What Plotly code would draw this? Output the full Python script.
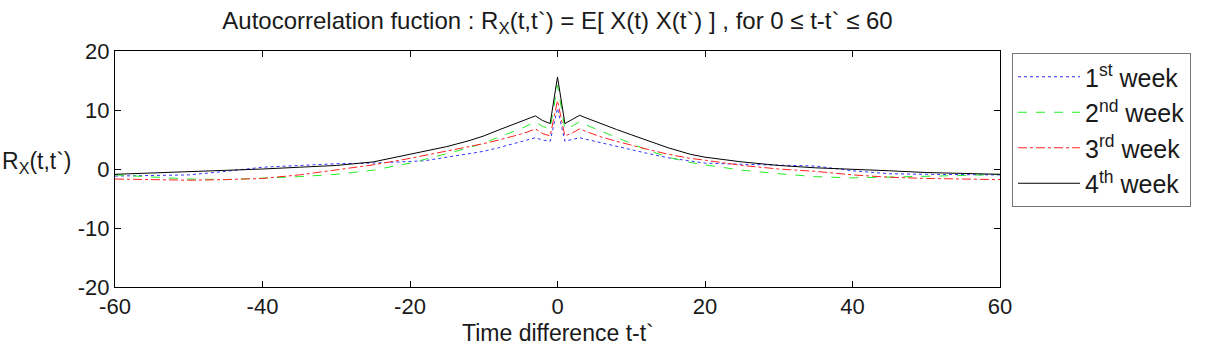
import plotly.graph_objects as go

lags = [-60, -55, -50, -45, -40, -35, -30, -25, -20, -18, -15, -12, -10, -8, -6, -5, -4, -3, -2, -1,
        0, 1, 2, 3, 4, 5, 6, 8, 10, 12, 15, 18, 20, 25, 30, 35, 40, 45, 50, 55, 60]

week1 = [-1.2, -1.1, -1.0, -0.4, 0.3, 0.6, 0.9, 1.0, 1.2, 1.4, 2.0, 2.6, 3.0, 3.6, 4.3, 4.6, 5.0, 5.3, 4.9, 4.7,
         10.3, 4.7, 5.0, 5.3, 5.0, 4.7, 4.5, 3.9, 3.3, 2.7, 1.9, 1.4, 1.0, 0.8, 0.6, 0.5, -0.3, -0.8, -0.9, -1.0, -1.0]
week2 = [-1.0, -1.3, -1.7, -1.8, -1.6, -1.3, -0.9, -0.2, 1.0, 1.6, 2.6, 3.6, 4.4, 5.4, 6.3, 6.8, 7.4, 8.0, 7.2, 6.8,
         14.2, 6.8, 7.3, 8.0, 7.4, 6.9, 6.4, 5.3, 4.3, 3.3, 2.0, 1.1, 0.7, -0.2, -0.8, -1.3, -1.5, -1.4, -1.3, -1.1, -0.9]
week3 = [-1.7, -1.8, -1.9, -1.8, -1.6, -1.0, -0.2, 0.7, 1.8, 2.3, 3.0, 3.8, 4.3, 4.9, 5.5, 5.9, 6.3, 6.8, 6.0, 5.6,
         11.6, 5.6, 6.1, 6.8, 6.3, 5.8, 5.4, 4.7, 4.0, 3.4, 2.5, 1.8, 1.5, 0.6, 0.0, -0.4, -1.0, -1.4, -1.6, -1.7, -1.8]
week4 = [-0.9, -0.7, -0.5, -0.2, 0.0, 0.3, 0.6, 1.2, 2.5, 3.1, 3.8, 4.8, 5.6, 6.6, 7.6, 8.0, 8.5, 9.0, 8.2, 7.7,
         15.6, 7.7, 8.4, 9.1, 8.6, 8.1, 7.6, 6.7, 5.8, 4.9, 3.6, 2.5, 2.0, 1.2, 0.6, 0.2, 0.0, -0.3, -0.6, -0.8, -0.9]

names = ["1<sup>st</sup> week", "2<sup>nd</sup> week", "3<sup>rd</sup> week", "4<sup>th</sup> week"]
colors = ["#3333ff", "#22ee22", "#ff2222", "#000000"]
dashes = ["dot", "dash", "dashdot", "solid"]

x_ticks = [-60, -40, -20, 0, 20, 40, 60]
x_labels = ["-60", "-40", "-20", "0", "20", "40", "60"]
y_ticks = [-20, -10, 0, 10, 20]
y_labels = ["-20", "-10", "0", "10", "20"]

FONT = "Liberation Sans, Arial, sans-serif"
TXT = "#1a1a1a"

fig = go.Figure()
for ys, nm, c, d in zip([week1, week2, week3, week4], names, colors, dashes):
    fig.add_trace(go.Scatter(x=lags, y=ys, mode="lines", name=nm,
                             line=dict(color=c, dash=d, width=1)))

axis_common = dict(showline=True, linecolor="#000000", linewidth=1, mirror="ticks",
                   ticks="inside", ticklen=6, tickcolor="#000000", showgrid=False,
                   zeroline=False, tickfont=dict(family=FONT, size=22, color=TXT))

fig.update_layout(
    width=1212, height=353,
    margin=dict(l=115, r=212, t=51, b=66),
    paper_bgcolor="white", plot_bgcolor="white",
    font=dict(family=FONT, size=22, color=TXT),
    title=dict(text="Autocorrelation fuction : R<sub>X</sub>(t,t`) = E[ X(t) X(t`) ] , for 0 \u2264 t-t` \u2264 60",
               x=(115 + 1000) / 2 / 1212, xanchor="center", y=1 - 21 / 353, yanchor="middle",
               font=dict(family=FONT, size=24, color=TXT)),
    xaxis=dict(range=[-60, 60], tickvals=x_ticks, ticktext=x_labels, **axis_common),
    yaxis=dict(range=[-20, 20], tickvals=y_ticks, ticktext=y_labels, **axis_common),
    legend=dict(x=(1012 - 115) / 885, y=(287 - 53) / 236, xanchor="left", yanchor="top",
                bordercolor="#777777", borderwidth=1, bgcolor="white", itemwidth=62,
                font=dict(family=FONT, size=25, color=TXT)),
    showlegend=True,
)

fig.add_annotation(text="Time difference t-t`", xref="paper", yref="paper",
                   x=0.5, y=-(333 - 287) / 236, xanchor="center", yanchor="middle",
                   showarrow=False, font=dict(family=FONT, size=23, color=TXT))
fig.add_annotation(text="R<sub>X</sub>(t,t`)", xref="paper", yref="paper",
                   x=-115 / 885, y=(287 - 162) / 236, xanchor="left", yanchor="middle",
                   showarrow=False, font=dict(family=FONT, size=23, color=TXT))

fig.write_html("out.html")
